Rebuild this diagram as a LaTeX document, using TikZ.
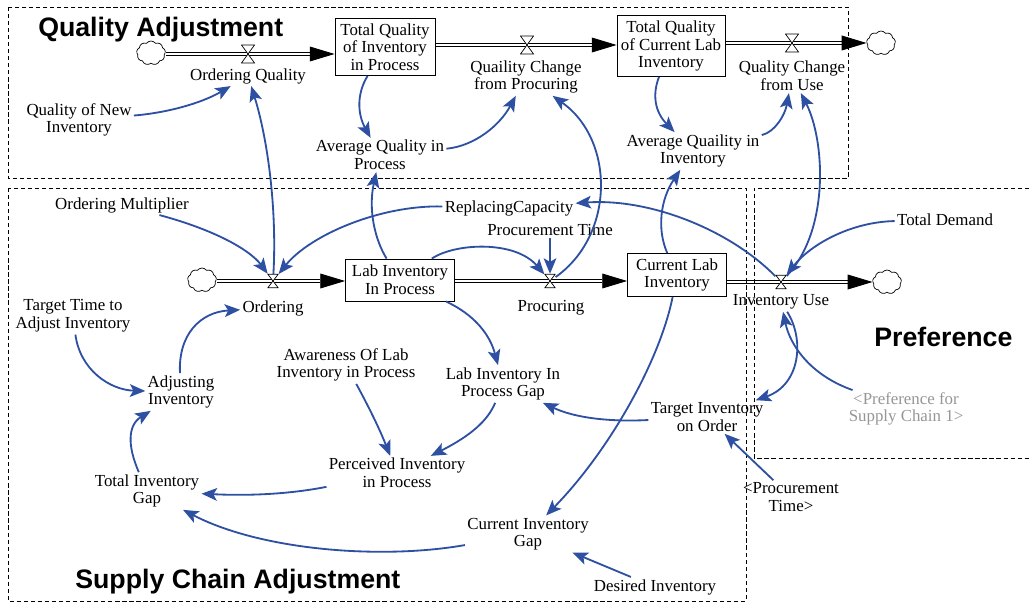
\documentclass[tikz,border=0pt]{standalone}
\usepackage{fontspec}
\setmainfont{Liberation Serif}
\newfontfamily\headfont{Liberation Sans}
\usetikzlibrary{arrows.meta,shapes.symbols}
\definecolor{linkblue}{RGB}{46,80,162}
\definecolor{shadowgray}{RGB}{150,150,150}
\pgfdeclarelayer{bg}
\pgfsetlayers{bg,main}
\tikzset{
  var/.style={align=center,inner sep=1.5pt,font=\fontsize{12}{12.5}\selectfont},
  stock/.style={var,draw,line width=0.6pt},
  head/.style={font=\headfont\bfseries\fontsize{19}{21}\selectfont,inner sep=0pt},
  sector/.style={dash pattern=on 3pt off 2pt,line width=0.5pt},
  cloudy/.style={cloud,draw,cloud puffs=9,cloud puff arc=110,aspect=1.2,
    minimum width=0.72cm,minimum height=0.6cm,inner sep=0pt,line width=0.5pt},
  valve/.style={minimum width=0.35cm,minimum height=0.475cm,inner sep=0pt,outer sep=0pt,
    path picture={
      \draw[fill=white,line width=0.5pt]
        ([shift={(0.3pt,-0.3pt)}]path picture bounding box.north west)
        -- ([shift={(-0.3pt,-0.3pt)}]path picture bounding box.north east)
        -- (path picture bounding box.center) -- cycle
        ([shift={(0.3pt,0.3pt)}]path picture bounding box.south west)
        -- ([shift={(-0.3pt,0.3pt)}]path picture bounding box.south east)
        -- (path picture bounding box.center) -- cycle;
    }},
  small valve/.style={valve,minimum width=0.28cm,minimum height=0.36cm},
  pipe/.style={draw,double=white,double distance=2pt,line width=0.6pt,
    -{Triangle[length=0.62cm,width=0.37cm]}},
  link/.style={draw=linkblue,line width=1.3pt,
    -{Stealth[length=11pt,width=9pt,inset=2.5pt]}}
}
\begin{document}
\begin{tikzpicture}[x=0.025cm,y=-0.025cm]
\useasboundingbox (0,0) rectangle (1029,603);

% sectors
\draw[sector] (8,7) rectangle (848,178);
\draw[sector] (8,188) rectangle (746,601);
\draw[sector] (1029,188) -- (754,188) -- (754,458) -- (1029,458);
\node[head,anchor=base west] (hQA) at (38,37) {Quality Adjustment};
\node[head,anchor=base west] (hSCA) at (75,588) {Supply Chain Adjustment};
\node[head,anchor=base west] (hPref) at (874,346) {Preference};

% quality chain
\node[cloudy] (c1) at (151,53) {};
\node[valve] (vOQ) at (248,54) {};
\node[stock,minimum width=2.5cm,minimum height=1.425cm] (TQIP) at (385,47)
  {Total Quality\\of Inventory\\in Process};
\node[valve] (vQCP) at (527,45) {};
\node[stock,minimum width=2.7cm,minimum height=1.525cm] (TQCLI) at (671,46)
  {Total Quality\\of Current Lab\\Inventory};
\node[valve] (vQCU) at (792,43) {};
\node[cloudy] (c2) at (881,43) {};

\node[var] (OQ) at (248,76) {Ordering Quality};
\node[var] (QCP) at (526,77) {Quaility Change\\from Procuring};
\node[var] (QCU) at (792,76) {Quality Change\\from Use};
\node[var] (QNI) at (79,120) {Quality of New\\Inventory};
\node[var] (AQP) at (380,155) {Average Quality in\\Process};
\node[var] (AQI) at (693,151) {Average Quaility in\\Inventory};

% supply chain
\node[cloudy] (c3) at (202,280) {};
\node[small valve] (vOrd) at (273,281) {};
\node[stock,minimum width=2.725cm,minimum height=1.05cm] (LIIP) at (400,280)
  {Lab Inventory\\In Process};
\node[small valve] (vProc) at (550,281) {};
\node[stock,minimum width=2.475cm,minimum height=1.075cm] (CLI) at (677,275)
  {Current Lab\\Inventory};
\node[small valve] (vIU) at (781,282) {};
\node[cloudy] (c4) at (887,282) {};

\node[var] (Ord) at (273,308) {Ordering};
\node[var] (Proc) at (551,308) {Procuring};
\node[var] (IU) at (781,302) {Inventory Use};
\node[var] (OM) at (122,205) {Ordering Multiplier};
\node[var] (RC) at (509,208) {ReplacingCapacity};
\node[var] (PT) at (550,230) {Procurement Time};
\node[var] (TD) at (945,220) {Total Demand};
\node[var,text=shadowgray] (PSC) at (906,409) {<Preference for\\Supply Chain 1>};
\node[var] (TTAI) at (73,316) {Target Time to\\Adjust Inventory};
\node[var] (AI) at (181,392) {Adjusting\\Inventory};
\node[var] (ALIP) at (346,365) {Awareness Of Lab\\Inventory in Process};
\node[var] (LIPG) at (503,384) {Lab Inventory In\\Process Gap};
\node[var] (TIO) at (707,417) {Target Inventory\\on Order};
\node[var] (PIP) at (397,473) {Perceived Inventory\\in Process};
\node[var] (TIG) at (147,491) {Total Inventory\\Gap};
\node[var] (PTs) at (791,497) {<Procurement\\Time>};
\node[var] (CIG) at (528,534) {Current Inventory\\Gap};
\node[var] (DI) at (655,587) {Desired Inventory};

% flows
\begin{pgfonlayer}{bg}
\draw[pipe] (c1.east |- vOQ) -- (TQIP.west |- vOQ);
\draw[pipe] (TQIP.east |- vQCP) -- (TQCLI.west |- vQCP);
\draw[pipe] (TQCLI.east |- vQCU) -- (c2.west |- vQCU);
\draw[pipe] (c3.east |- vOrd) -- (LIIP.west |- vOrd);
\draw[pipe] (LIIP.east |- vProc) -- (CLI.west |- vProc);
\draw[pipe] (CLI.east |- vIU) -- (c4.west |- vIU);
\end{pgfonlayer}

% links
\draw[link] (QNI) .. controls (165,113) and (200,104) .. (OQ);
\draw[link] (vOrd) .. controls (277,210) and (268,140) .. (OQ);
\draw[link] (TQIP) .. controls (356,95) and (358,115) .. (AQP);
\draw[link] (AQP) .. controls (475,146) and (500,125) .. (QCP);
\draw[link] (LIIP) .. controls (375,240) and (368,210) .. (AQP);
\draw[link] (vProc) .. controls (615,235) and (615,140) .. (QCP);
\draw[link] (TQCLI) .. controls (652,95) and (655,112) .. (AQI);
\draw[link] (AQI) .. controls (775,132) and (785,115) .. (QCU);
\draw[link] (CLI) .. controls (657,230) and (660,200) .. (AQI);
\draw[link] (vIU) .. controls (830,230) and (825,140) .. (QCU);
\draw[link] (OM) .. controls (215,230) and (250,250) .. (vOrd);
\draw[link] (RC) .. controls (380,205) and (310,235) .. (vOrd);
\draw[link] (vIU) .. controls (730,230) and (650,198) .. (RC);
\draw[link] (LIIP) .. controls (455,243) and (515,240) .. (vProc);
\draw[link] (PT) -- (vProc);
\draw[link] (LIIP) .. controls (475,315) and (490,335) .. (LIPG);
\draw[link] (CLI) .. controls (660,360) and (610,450) .. (CIG);
\draw[link] (TD) .. controls (850,222) and (810,245) .. (vIU);
\draw[link] (PSC) .. controls (810,375) and (790,345) .. (IU);
\draw[link] (IU) .. controls (805,340) and (800,385) .. (TIO);
\draw[link] (TIO) .. controls (610,422) and (575,418) .. (LIPG);
\draw[link] (PTs) -- (TIO);
\draw[link] (LIPG) .. controls (488,420) and (472,435) .. (PIP);
\draw[link] (ALIP) .. controls (365,400) and (378,425) .. (PIP);
\draw[link] (PIP) .. controls (290,494) and (250,496) .. (TIG);
\draw[link] (CIG) .. controls (380,560) and (260,550) .. (TIG);
\draw[link] (DI) -- (CIG);
\draw[link] (TIG) .. controls (127,445) and (128,425) .. (AI);
\draw[link] (AI) .. controls (178,335) and (200,312) .. (Ord);
\draw[link] (TTAI) .. controls (80,370) and (110,390) .. (AI);
\end{tikzpicture}
\end{document}
